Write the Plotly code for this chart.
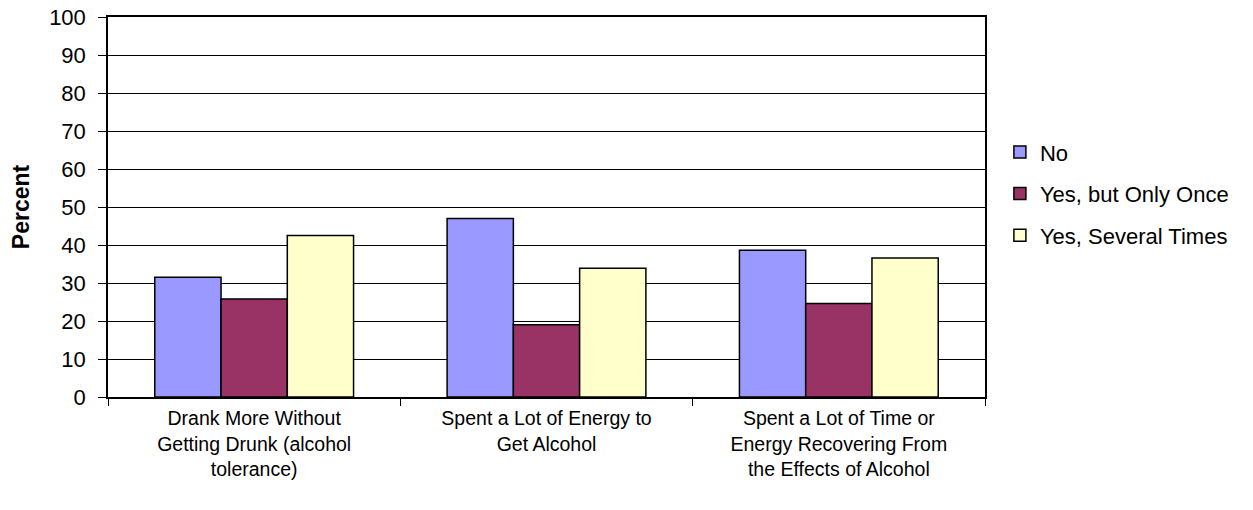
import plotly.graph_objects as go

categories = [
    "Drank More Without<br>Getting Drunk (alcohol<br>tolerance)",
    "Spent a Lot of Energy to<br>Get Alcohol",
    "Spent a Lot of Time or<br>Energy Recovering From<br>the Effects of Alcohol",
]
no_vals = [31.5, 47.0, 38.6]
once_vals = [25.8, 19.0, 24.6]
several_vals = [42.5, 33.9, 36.6]

series = [
    ("No", no_vals, "#9999FF"),
    ("Yes, but Only Once", once_vals, "#993366"),
    ("Yes, Several Times", several_vals, "#FFFFCC"),
]

fig = go.Figure()
for name, vals, color in series:
    fig.add_trace(go.Bar(
        x=categories, y=vals, name=name, legendgroup=name,
        marker=dict(color=color, line=dict(color="black", width=1.5)),
    ))

font = "Liberation Sans, Arial, sans-serif"
fig.update_layout(
    width=1253, height=510,
    margin=dict(l=108, r=268, t=17, b=113),
    paper_bgcolor="white", plot_bgcolor="white",
    barmode="group", bargap=0.32, bargroupgap=0,
    font=dict(family=font, size=20, color="black"),
    legend=dict(x=1.017, y=0.535, xanchor="left", yanchor="middle",
                font=dict(size=22), tracegroupgap=10,
                itemwidth=30),
    xaxis=dict(showline=True, linecolor="black", linewidth=1.5, mirror=True,
               ticks="outside", tickson="boundaries", ticklen=7,
               tickcolor="black", tickfont=dict(size=19.5),
               ticklabelstandoff=3, automargin=False),
    yaxis=dict(range=[0, 100], dtick=10, showline=True, linecolor="black",
               linewidth=1.5, mirror=True, ticks="outside", ticklen=8,
               tickcolor="black", showgrid=True, gridcolor="black",
               gridwidth=1, zeroline=False, tickfont=dict(size=22),
               ticklabelstandoff=8, ticklabeloverflow="allow",
               automargin=False,
               title=dict(text="<b>Percent</b>", font=dict(size=23),
                          standoff=13)),
)

# drop the default 8px body margin so the figure sits at the page corner
fig.write_html("out.html", config={"displayModeBar": False},
               post_script="document.body.style.margin = '0';")
